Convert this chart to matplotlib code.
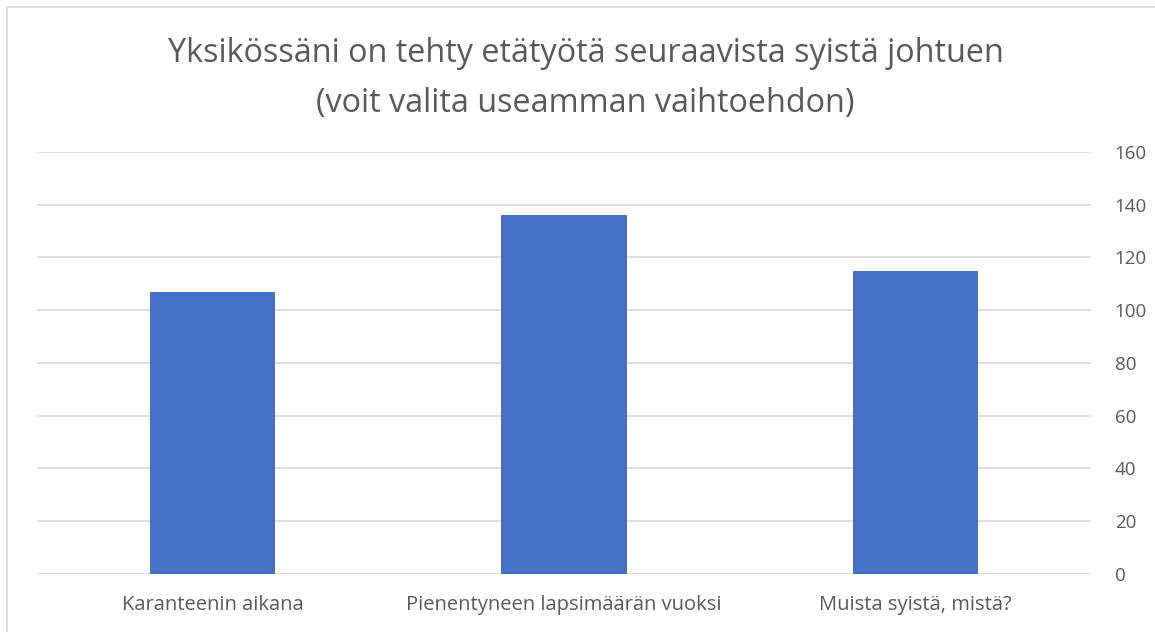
import matplotlib.pyplot as plt
from matplotlib.patches import Rectangle

categories = ['Karanteenin aikana', 'Pienentyneen lapsimäärän vuoksi', 'Muista syistä, mistä?']
values = [107, 136, 115]
yticks = [0, 20, 40, 60, 80, 100, 120, 140, 160]
title = 'Yksikössäni on tehty etätyötä seuraavista syistä johtuen\n(voit valita useamman vaihtoehdon)'

plt.rcParams['font.family'] = ['Open Sans', 'DejaVu Sans']
text_col = '#595959'
grid_col = '#d9d9d9'

fig = plt.figure(figsize=(11.55, 6.32), dpi=100)
ax = fig.add_axes([0.032, 0.0918, 0.9127, 0.6677])

x = range(len(categories))
ax.bar(x, values, width=0.356, color='#4472c4', zorder=3)

ax.set_xlim(-0.5, len(categories) - 0.5)
ax.set_ylim(0, 160)
ax.set_yticks(yticks)
ax.yaxis.tick_right()
ax.tick_params(axis='y', length=0, pad=17, labelsize=13.5, labelcolor=text_col)
ax.set_xticks(list(x))
ax.set_xticklabels(categories)
ax.tick_params(axis='x', length=0, pad=15, labelsize=14.5, labelcolor=text_col)
ax.grid(axis='y', color=grid_col, linewidth=1.2, zorder=0)
for s in ax.spines.values():
    s.set_visible(False)

fig.text(0.507, 0.942, title, ha='center', va='top', fontsize=23.3, color=text_col,
         linespacing=1.7)

# chart border
fig.patches.append(Rectangle((7 / 1155, -0.01), 1.1, 1 - 7 / 632 + 0.01,
                             transform=fig.transFigure, fill=False,
                             edgecolor='#d9d9d9', linewidth=1.2))

fig.savefig('out.png', dpi=100)
